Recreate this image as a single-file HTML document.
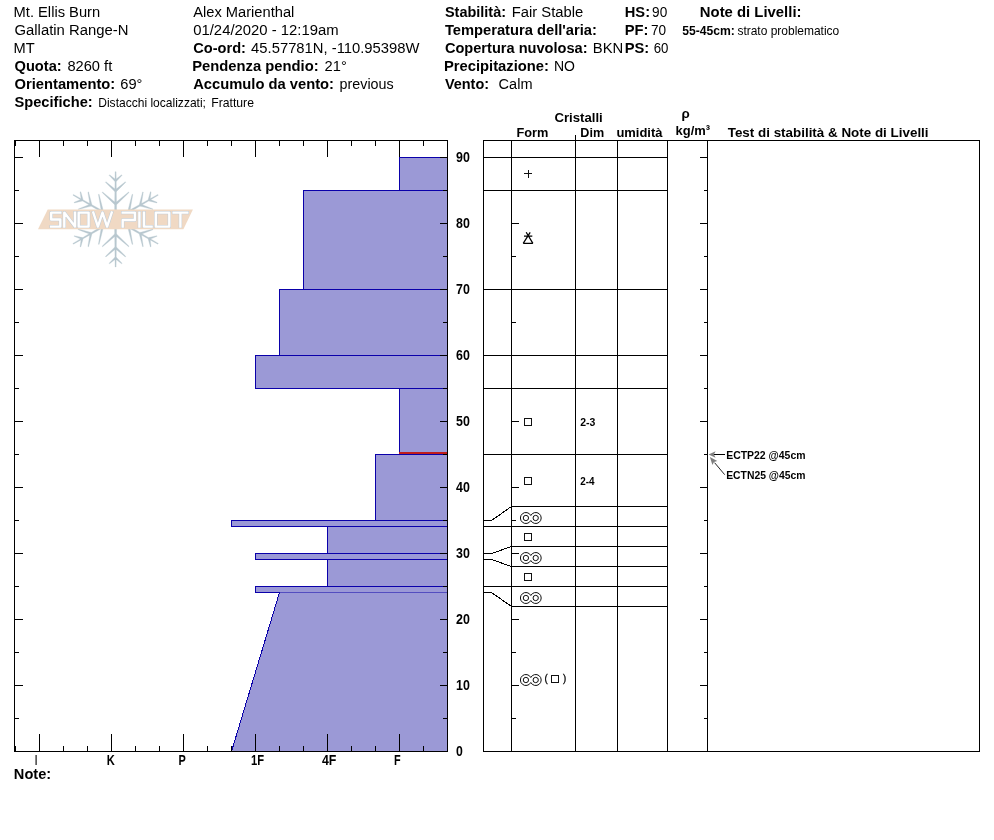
<!DOCTYPE html>
<html><head><meta charset="utf-8"><title>Snow Pilot</title>
<style>html,body{margin:0;padding:0;background:#fff;}svg{display:block;will-change:transform;}text{font-family:"Liberation Sans",sans-serif;fill:#000;}.b{font-weight:bold;}.h{font-size:15.3px;}.s{font-size:12.5px;}.t{font-size:13.55px;font-weight:bold;}.l{stroke:#000;stroke-width:1;shape-rendering:crispEdges;fill:none;}.bl{stroke:#0a00aa;stroke-width:1;shape-rendering:crispEdges;fill:none;}</style></head><body>
<svg width="994" height="840" viewBox="0 0 994 840">
<rect x="0" y="0" width="994" height="840" fill="#fff"/>
<text transform="translate(13.54,16.8) scale(0.9628,1)" class="h">Mt. Ellis Burn</text>
<text transform="translate(14.50,34.7) scale(0.9717,1)" class="h">Gallatin Range-N</text>
<text transform="translate(13.54,52.7) scale(0.9588,1)" class="h">MT</text>
<text transform="translate(14.50,70.8) scale(0.9588,1)" class="h b">Quota:</text>
<text transform="translate(67.40,70.8) scale(0.9588,1)" class="h">8260 ft</text>
<text transform="translate(14.50,88.8) scale(0.9648,1)" class="h b">Orientamento:</text>
<text transform="translate(120.30,88.8) scale(0.9588,1)" class="h">69°</text>
<text transform="translate(14.50,106.7) scale(0.9588,1)" class="h b">Specifiche:</text>
<text transform="translate(98.24,107.2) scale(0.9640,1)" class="s">Distacchi localizzati;</text>
<text transform="translate(211.22,107.2) scale(0.9764,1)" class="s">Fratture</text>
<text transform="translate(193.20,16.8) scale(0.9597,1)" class="h">Alex Marienthal</text>
<text transform="translate(193.20,34.7) scale(0.9722,1)" class="h">01/24/2020 - 12:19am</text>
<text transform="translate(193.20,52.7) scale(0.9552,1)" class="h b">Co-ord:</text>
<text transform="translate(251.10,52.7) scale(0.9678,1)" class="h">45.57781N, -110.95398W</text>
<text transform="translate(192.23,70.8) scale(0.9667,1)" class="h b">Pendenza pendio:</text>
<text transform="translate(324.60,70.8) scale(0.9588,1)" class="h">21°</text>
<text transform="translate(193.20,88.8) scale(0.9635,1)" class="h b">Accumulo da vento:</text>
<text transform="translate(339.60,88.8) scale(0.9352,1)" class="h">previous</text>
<text transform="translate(444.90,16.8) scale(0.9480,1)" class="h b">Stabilità:</text>
<text transform="translate(511.73,16.8) scale(0.9674,1)" class="h">Fair Stable</text>
<text transform="translate(444.90,34.7) scale(0.9619,1)" class="h b">Temperatura dell'aria:</text>
<text transform="translate(444.90,52.7) scale(0.9549,1)" class="h b">Copertura nuvolosa:</text>
<text transform="translate(592.83,52.7) scale(0.9692,1)" class="h">BKN</text>
<text transform="translate(443.93,70.8) scale(0.9662,1)" class="h b">Precipitazione:</text>
<text transform="translate(553.88,70.8) scale(0.9162,1)" class="h">NO</text>
<text transform="translate(444.90,88.8) scale(0.9464,1)" class="h b">Vento:</text>
<text transform="translate(498.60,88.8) scale(0.9499,1)" class="h">Calm</text>
<text transform="translate(624.74,16.8) scale(0.9608,1)" class="h b">HS:</text>
<text transform="translate(652.10,16.8) scale(0.8905,1)" class="h">90</text>
<text transform="translate(624.74,34.7) scale(0.9624,1)" class="h b">PF:</text>
<text transform="translate(651.00,34.7) scale(0.8905,1)" class="h">70</text>
<text transform="translate(624.74,52.7) scale(0.9613,1)" class="h b">PS:</text>
<text transform="translate(653.70,52.7) scale(0.8663,1)" class="h">60</text>
<text transform="translate(699.83,16.8) scale(0.9732,1)" class="h b">Note di Livelli:</text>
<text transform="translate(682.20,34.7) scale(0.9729,1)" class="s b">55-45cm:</text>
<text transform="translate(737.40,34.7) scale(0.9591,1)" class="s">strato problematico</text>
<text transform="translate(554.40,121.7) scale(0.9729,1)" class="t">Cristalli</text>
<text transform="translate(516.50,136.6) scale(0.9432,1)" class="t">Form</text>
<text transform="translate(580.30,136.6) scale(0.9316,1)" class="t">Dim</text>
<text transform="translate(616.40,136.6) scale(0.9582,1)" class="t">umidità</text>
<text transform="translate(681.50,117.8) scale(0.9840,1)" class="t">ρ</text>
<text transform="translate(675.60,134.8) scale(0.9558,1)" class="t">kg/m³</text>
<text transform="translate(727.70,136.6) scale(0.9905,1)" class="t">Test di stabilità &amp; Note di Livelli</text>
<rect x="399.5" y="157.5" width="48" height="33" fill="#9b99d6" stroke="#0a00aa" stroke-width="1" shape-rendering="crispEdges"/>
<rect x="303.5" y="190.5" width="144" height="99" fill="#9b99d6" stroke="#0a00aa" stroke-width="1" shape-rendering="crispEdges"/>
<rect x="279.5" y="289.5" width="168" height="66" fill="#9b99d6" stroke="#0a00aa" stroke-width="1" shape-rendering="crispEdges"/>
<rect x="255.5" y="355.5" width="192" height="33" fill="#9b99d6" stroke="#0a00aa" stroke-width="1" shape-rendering="crispEdges"/>
<rect x="399.5" y="388.5" width="48" height="66" fill="#9b99d6" stroke="#0a00aa" stroke-width="1" shape-rendering="crispEdges"/>
<rect x="375.5" y="454.5" width="72" height="66" fill="#9b99d6" stroke="#0a00aa" stroke-width="1" shape-rendering="crispEdges"/>
<rect x="231.5" y="520.5" width="216" height="6" fill="#9b99d6" stroke="#0a00aa" stroke-width="1" shape-rendering="crispEdges"/>
<rect x="327.5" y="526.5" width="120" height="27" fill="#9b99d6" stroke="#0a00aa" stroke-width="1" shape-rendering="crispEdges"/>
<rect x="255.5" y="553.5" width="192" height="6" fill="#9b99d6" stroke="#0a00aa" stroke-width="1" shape-rendering="crispEdges"/>
<rect x="327.5" y="559.5" width="120" height="27" fill="#9b99d6" stroke="#0a00aa" stroke-width="1" shape-rendering="crispEdges"/>
<rect x="255.5" y="586.5" width="192" height="6" fill="#9b99d6" stroke="#0a00aa" stroke-width="1" shape-rendering="crispEdges"/>
<polygon points="279.5,592.5 447.5,592.5 447.5,751.5 231.5,751.5" fill="#9b99d6" stroke="none"/>
<line x1="279.5" y1="592.5" x2="231.5" y2="751.5" stroke="#0a00aa" stroke-width="1" shape-rendering="crispEdges"/>
<rect x="399" y="452" width="48" height="2" fill="#c01c1c" shape-rendering="crispEdges"/>
<line x1="14" y1="140.5" x2="448" y2="140.5" class="l"/>
<line x1="14" y1="751.5" x2="448" y2="751.5" class="l"/>
<line x1="14.5" y1="140" x2="14.5" y2="752" class="l"/>
<line x1="447.5" y1="140" x2="447.5" y2="752" class="l"/>
<line x1="15.5" y1="140" x2="15.5" y2="146" class="l"/>
<line x1="15.5" y1="746" x2="15.5" y2="752" class="l"/>
<line x1="39.5" y1="140" x2="39.5" y2="157" class="l"/>
<line x1="39.5" y1="734" x2="39.5" y2="752" class="l"/>
<line x1="63.5" y1="140" x2="63.5" y2="146" class="l"/>
<line x1="63.5" y1="746" x2="63.5" y2="752" class="l"/>
<line x1="87.5" y1="140" x2="87.5" y2="146" class="l"/>
<line x1="87.5" y1="746" x2="87.5" y2="752" class="l"/>
<line x1="111.5" y1="140" x2="111.5" y2="157" class="l"/>
<line x1="111.5" y1="734" x2="111.5" y2="752" class="l"/>
<line x1="135.5" y1="140" x2="135.5" y2="146" class="l"/>
<line x1="135.5" y1="746" x2="135.5" y2="752" class="l"/>
<line x1="159.5" y1="140" x2="159.5" y2="146" class="l"/>
<line x1="159.5" y1="746" x2="159.5" y2="752" class="l"/>
<line x1="183.5" y1="140" x2="183.5" y2="157" class="l"/>
<line x1="183.5" y1="734" x2="183.5" y2="752" class="l"/>
<line x1="207.5" y1="140" x2="207.5" y2="146" class="l"/>
<line x1="207.5" y1="746" x2="207.5" y2="752" class="l"/>
<line x1="231.5" y1="140" x2="231.5" y2="146" class="l"/>
<line x1="231.5" y1="746" x2="231.5" y2="752" class="l"/>
<line x1="255.5" y1="140" x2="255.5" y2="157" class="l"/>
<line x1="255.5" y1="734" x2="255.5" y2="752" class="l"/>
<line x1="279.5" y1="140" x2="279.5" y2="146" class="l"/>
<line x1="279.5" y1="746" x2="279.5" y2="752" class="l"/>
<line x1="303.5" y1="140" x2="303.5" y2="146" class="l"/>
<line x1="303.5" y1="746" x2="303.5" y2="752" class="l"/>
<line x1="327.5" y1="140" x2="327.5" y2="157" class="l"/>
<line x1="327.5" y1="734" x2="327.5" y2="752" class="l"/>
<line x1="351.5" y1="140" x2="351.5" y2="146" class="l"/>
<line x1="351.5" y1="746" x2="351.5" y2="752" class="l"/>
<line x1="375.5" y1="140" x2="375.5" y2="146" class="l"/>
<line x1="375.5" y1="746" x2="375.5" y2="752" class="l"/>
<line x1="399.5" y1="140" x2="399.5" y2="157" class="l"/>
<line x1="399.5" y1="734" x2="399.5" y2="752" class="l"/>
<line x1="423.5" y1="140" x2="423.5" y2="146" class="l"/>
<line x1="423.5" y1="746" x2="423.5" y2="752" class="l"/>
<line x1="15.5" y1="140" x2="15.5" y2="146" class="l"/>
<line x1="14" y1="751.5" x2="23" y2="751.5" class="l"/>
<line x1="440" y1="751.5" x2="448" y2="751.5" class="l"/>
<line x1="14" y1="718.5" x2="19" y2="718.5" class="l"/>
<line x1="443" y1="718.5" x2="448" y2="718.5" class="l"/>
<line x1="14" y1="685.5" x2="23" y2="685.5" class="l"/>
<line x1="440" y1="685.5" x2="448" y2="685.5" class="l"/>
<line x1="14" y1="652.5" x2="19" y2="652.5" class="l"/>
<line x1="443" y1="652.5" x2="448" y2="652.5" class="l"/>
<line x1="14" y1="619.5" x2="23" y2="619.5" class="l"/>
<line x1="440" y1="619.5" x2="448" y2="619.5" class="l"/>
<line x1="14" y1="586.5" x2="19" y2="586.5" class="l"/>
<line x1="443" y1="586.5" x2="448" y2="586.5" class="l"/>
<line x1="14" y1="553.5" x2="23" y2="553.5" class="l"/>
<line x1="440" y1="553.5" x2="448" y2="553.5" class="l"/>
<line x1="14" y1="520.5" x2="19" y2="520.5" class="l"/>
<line x1="443" y1="520.5" x2="448" y2="520.5" class="l"/>
<line x1="14" y1="487.5" x2="23" y2="487.5" class="l"/>
<line x1="440" y1="487.5" x2="448" y2="487.5" class="l"/>
<line x1="14" y1="454.5" x2="19" y2="454.5" class="l"/>
<line x1="443" y1="454.5" x2="448" y2="454.5" class="l"/>
<line x1="14" y1="421.5" x2="23" y2="421.5" class="l"/>
<line x1="440" y1="421.5" x2="448" y2="421.5" class="l"/>
<line x1="14" y1="388.5" x2="19" y2="388.5" class="l"/>
<line x1="443" y1="388.5" x2="448" y2="388.5" class="l"/>
<line x1="14" y1="355.5" x2="23" y2="355.5" class="l"/>
<line x1="440" y1="355.5" x2="448" y2="355.5" class="l"/>
<line x1="14" y1="322.5" x2="19" y2="322.5" class="l"/>
<line x1="443" y1="322.5" x2="448" y2="322.5" class="l"/>
<line x1="14" y1="289.5" x2="23" y2="289.5" class="l"/>
<line x1="440" y1="289.5" x2="448" y2="289.5" class="l"/>
<line x1="14" y1="256.5" x2="19" y2="256.5" class="l"/>
<line x1="443" y1="256.5" x2="448" y2="256.5" class="l"/>
<line x1="14" y1="223.5" x2="23" y2="223.5" class="l"/>
<line x1="440" y1="223.5" x2="448" y2="223.5" class="l"/>
<line x1="14" y1="190.5" x2="19" y2="190.5" class="l"/>
<line x1="443" y1="190.5" x2="448" y2="190.5" class="l"/>
<line x1="14" y1="157.5" x2="23" y2="157.5" class="l"/>
<line x1="440" y1="157.5" x2="448" y2="157.5" class="l"/>
<text transform="translate(456.00,756.2) scale(0.8750,1)" class="b" style="font-size:14px">0</text>
<text transform="translate(456.00,690.2) scale(0.8869,1)" class="b" style="font-size:14px">10</text>
<text transform="translate(456.00,624.2) scale(0.8869,1)" class="b" style="font-size:14px">20</text>
<text transform="translate(456.00,558.2) scale(0.8869,1)" class="b" style="font-size:14px">30</text>
<text transform="translate(456.00,492.2) scale(0.8869,1)" class="b" style="font-size:14px">40</text>
<text transform="translate(456.00,426.2) scale(0.8869,1)" class="b" style="font-size:14px">50</text>
<text transform="translate(456.00,360.2) scale(0.8869,1)" class="b" style="font-size:14px">60</text>
<text transform="translate(456.00,294.2) scale(0.8869,1)" class="b" style="font-size:14px">70</text>
<text transform="translate(456.00,228.2) scale(0.8869,1)" class="b" style="font-size:14px">80</text>
<text transform="translate(456.00,162.2) scale(0.8869,1)" class="b" style="font-size:14px">90</text>
<text transform="translate(35.00,765) scale(0.5500,1)" class="t" style="font-size:14.4px">I</text>
<text transform="translate(106.70,765) scale(0.7727,1)" class="t" style="font-size:14.4px">K</text>
<text transform="translate(178.60,765) scale(0.7600,1)" class="t" style="font-size:14.4px">P</text>
<text transform="translate(251.00,765) scale(0.7763,1)" class="t" style="font-size:14.4px">1F</text>
<text transform="translate(322.00,765) scale(0.8587,1)" class="t" style="font-size:14.4px">4F</text>
<text transform="translate(394.00,765) scale(0.7556,1)" class="t" style="font-size:14.4px">F</text>
<text transform="translate(13.85,778.8) scale(0.9543,1)" class="h b">Note:</text>
<line x1="483" y1="140.5" x2="980" y2="140.5" class="l"/>
<line x1="483" y1="751.5" x2="980" y2="751.5" class="l"/>
<line x1="483.5" y1="140" x2="483.5" y2="752" class="l"/>
<line x1="979.5" y1="140" x2="979.5" y2="752" class="l"/>
<line x1="511.5" y1="140" x2="511.5" y2="752" class="l"/>
<line x1="575.5" y1="135" x2="575.5" y2="752" class="l"/>
<line x1="617.5" y1="140" x2="617.5" y2="752" class="l"/>
<line x1="667.5" y1="140" x2="667.5" y2="752" class="l"/>
<line x1="707.5" y1="140" x2="707.5" y2="752" class="l"/>
<line x1="483" y1="157.5" x2="668" y2="157.5" class="l"/>
<line x1="483" y1="190.5" x2="668" y2="190.5" class="l"/>
<line x1="483" y1="289.5" x2="668" y2="289.5" class="l"/>
<line x1="483" y1="355.5" x2="668" y2="355.5" class="l"/>
<line x1="483" y1="388.5" x2="668" y2="388.5" class="l"/>
<line x1="483" y1="454.5" x2="668" y2="454.5" class="l"/>
<line x1="483" y1="526.5" x2="668" y2="526.5" class="l"/>
<line x1="483" y1="586.5" x2="668" y2="586.5" class="l"/>
<line x1="511" y1="506.5" x2="668" y2="506.5" class="l"/>
<line x1="511" y1="546.5" x2="668" y2="546.5" class="l"/>
<line x1="511" y1="566.5" x2="668" y2="566.5" class="l"/>
<line x1="511" y1="606.5" x2="668" y2="606.5" class="l"/>
<polyline points="483.5,520.5 491.5,520.5 511.5,506.5" stroke="#000" stroke-width="1" fill="none" shape-rendering="crispEdges"/>
<polyline points="483.5,553.5 491.5,553.5 511.5,546.5" stroke="#000" stroke-width="1" fill="none" shape-rendering="crispEdges"/>
<polyline points="483.5,559.5 491.5,559.5 511.5,566.5" stroke="#000" stroke-width="1" fill="none" shape-rendering="crispEdges"/>
<polyline points="483.5,592.5 491.5,592.5 511.5,606.5" stroke="#000" stroke-width="1" fill="none" shape-rendering="crispEdges"/>
<line x1="511" y1="751.5" x2="519" y2="751.5" class="l"/>
<line x1="700" y1="751.5" x2="708" y2="751.5" class="l"/>
<line x1="511" y1="718.5" x2="516" y2="718.5" class="l"/>
<line x1="704" y1="718.5" x2="708" y2="718.5" class="l"/>
<line x1="511" y1="685.5" x2="519" y2="685.5" class="l"/>
<line x1="700" y1="685.5" x2="708" y2="685.5" class="l"/>
<line x1="511" y1="652.5" x2="516" y2="652.5" class="l"/>
<line x1="704" y1="652.5" x2="708" y2="652.5" class="l"/>
<line x1="511" y1="619.5" x2="519" y2="619.5" class="l"/>
<line x1="700" y1="619.5" x2="708" y2="619.5" class="l"/>
<line x1="511" y1="586.5" x2="516" y2="586.5" class="l"/>
<line x1="704" y1="586.5" x2="708" y2="586.5" class="l"/>
<line x1="511" y1="553.5" x2="519" y2="553.5" class="l"/>
<line x1="700" y1="553.5" x2="708" y2="553.5" class="l"/>
<line x1="511" y1="520.5" x2="516" y2="520.5" class="l"/>
<line x1="704" y1="520.5" x2="708" y2="520.5" class="l"/>
<line x1="511" y1="487.5" x2="519" y2="487.5" class="l"/>
<line x1="700" y1="487.5" x2="708" y2="487.5" class="l"/>
<line x1="511" y1="454.5" x2="516" y2="454.5" class="l"/>
<line x1="704" y1="454.5" x2="708" y2="454.5" class="l"/>
<line x1="511" y1="421.5" x2="519" y2="421.5" class="l"/>
<line x1="700" y1="421.5" x2="708" y2="421.5" class="l"/>
<line x1="511" y1="388.5" x2="516" y2="388.5" class="l"/>
<line x1="704" y1="388.5" x2="708" y2="388.5" class="l"/>
<line x1="511" y1="355.5" x2="519" y2="355.5" class="l"/>
<line x1="700" y1="355.5" x2="708" y2="355.5" class="l"/>
<line x1="511" y1="322.5" x2="516" y2="322.5" class="l"/>
<line x1="704" y1="322.5" x2="708" y2="322.5" class="l"/>
<line x1="511" y1="289.5" x2="519" y2="289.5" class="l"/>
<line x1="700" y1="289.5" x2="708" y2="289.5" class="l"/>
<line x1="511" y1="256.5" x2="516" y2="256.5" class="l"/>
<line x1="704" y1="256.5" x2="708" y2="256.5" class="l"/>
<line x1="511" y1="223.5" x2="519" y2="223.5" class="l"/>
<line x1="700" y1="223.5" x2="708" y2="223.5" class="l"/>
<line x1="511" y1="190.5" x2="516" y2="190.5" class="l"/>
<line x1="704" y1="190.5" x2="708" y2="190.5" class="l"/>
<line x1="511" y1="157.5" x2="519" y2="157.5" class="l"/>
<line x1="700" y1="157.5" x2="708" y2="157.5" class="l"/>
<path d="M524,173.5H532M528.5,170V178" stroke="#111" stroke-width="1" fill="none" shape-rendering="crispEdges"/>
<g stroke="#000" stroke-width="1.25" fill="none" stroke-linecap="butt"><path d="M523.2,243.4L530.2,232.3M532.9,243.4L526.2,232.3M523.2,243.4H532.9M524.0,236.0H532.3000000000001"/></g>
<rect x="524.5" y="418.5" width="7" height="7" stroke="#111" stroke-width="1" fill="none" shape-rendering="crispEdges"/>
<rect x="524.5" y="477.5" width="7" height="7" stroke="#111" stroke-width="1" fill="none" shape-rendering="crispEdges"/>
<g stroke="#101010" stroke-width="1.0" fill="none"><circle cx="525.9" cy="518" r="2.65"/><circle cx="535.6999999999999" cy="518" r="2.65"/><path d="M530.8,515.50 A5.5,5.5 0 1 0 530.8,520.50 A5.5,5.5 0 1 0 530.8,515.50Z"/></g>
<rect x="524.5" y="533.5" width="7" height="7" stroke="#111" stroke-width="1" fill="none" shape-rendering="crispEdges"/>
<g stroke="#101010" stroke-width="1.0" fill="none"><circle cx="525.9" cy="558" r="2.65"/><circle cx="535.6999999999999" cy="558" r="2.65"/><path d="M530.8,555.50 A5.5,5.5 0 1 0 530.8,560.50 A5.5,5.5 0 1 0 530.8,555.50Z"/></g>
<rect x="524.5" y="573.5" width="7" height="7" stroke="#111" stroke-width="1" fill="none" shape-rendering="crispEdges"/>
<g stroke="#101010" stroke-width="1.0" fill="none"><circle cx="525.9" cy="598" r="2.65"/><circle cx="535.6999999999999" cy="598" r="2.65"/><path d="M530.8,595.50 A5.5,5.5 0 1 0 530.8,600.50 A5.5,5.5 0 1 0 530.8,595.50Z"/></g>
<g stroke="#101010" stroke-width="1.0" fill="none"><circle cx="525.9" cy="680" r="2.65"/><circle cx="535.6999999999999" cy="680" r="2.65"/><path d="M530.8,677.50 A5.5,5.5 0 1 0 530.8,682.50 A5.5,5.5 0 1 0 530.8,677.50Z"/></g>
<text transform="translate(544.50,681.6) scale(0.9600,1)" class="s" style="font-size:10px;stroke:#000;stroke-width:0.3">(</text>
<rect x="551.5" y="675.5" width="7" height="7" stroke="#111" stroke-width="1" fill="none" shape-rendering="crispEdges"/>
<text transform="translate(563.10,681.6) scale(0.9600,1)" class="s" style="font-size:10px;stroke:#000;stroke-width:0.3">)</text>
<text transform="translate(580.20,426) scale(0.9122,1)" class="b" style="font-size:11.5px">2-3</text>
<text transform="translate(580.20,485) scale(0.8592,1)" class="b" style="font-size:11.5px">2-4</text>
<text transform="translate(726.20,458.8) scale(0.9509,1)" class="b" style="font-size:11px">ECTP22 @45cm</text>
<text transform="translate(726.20,478.7) scale(0.9441,1)" class="b" style="font-size:11px">ECTN25 @45cm</text>
<path d="M725,454.5H713" stroke="#000" stroke-width="1" fill="none" shape-rendering="crispEdges"/>
<path d="M708.6,454.5L715.6,451.3L713.9,454.5L715.6,457.7Z" fill="#808080"/>
<path d="M724.7,474.7L714.6,462.7" stroke="#111" stroke-width="0.9" fill="none"/>
<path d="M709.9,457.1L717.3,461.0L714.0,462.0L712.4,465.1Z" fill="#808080"/>
<g id="logo">
<path d="M116.7,216.3 L116.1,171.7 L115.1,171.7 L114.5,216.3Z M116.3,181.4 L122.1,175.3 L121.6,174.8 L114.9,180.0Z M116.3,180.0 L109.6,174.8 L109.1,175.3 L114.9,181.4Z M116.3,191.7 L125.8,182.2 L125.3,181.7 L114.9,190.1Z M116.3,190.1 L105.9,181.7 L105.4,182.2 L114.9,191.7Z M116.3,204.9 L129.1,192.4 L128.6,191.9 L114.9,203.3Z M116.3,203.3 L102.6,191.9 L102.1,192.4 L114.9,204.9Z M113.6,216.8 L73.4,194.4 L72.9,195.2 L112.5,218.8Z M83.1,199.8 L80.8,191.7 L80.1,191.9 L81.2,200.2Z M81.9,199.0 L74.1,202.3 L74.3,202.9 L82.5,201.0Z M92.0,204.9 L88.6,191.9 L87.9,192.1 L90.0,205.3Z M90.7,204.1 L78.2,208.9 L78.4,209.6 L91.3,206.1Z M103.5,211.5 L99.1,194.2 L98.4,194.4 L101.4,211.9Z M102.1,210.7 L85.4,216.9 L85.6,217.5 L102.8,212.7Z M112.5,219.8 L72.9,243.4 L73.4,244.2 L113.6,221.8Z M82.5,237.6 L74.3,235.7 L74.1,236.3 L81.9,239.6Z M81.2,238.4 L80.1,246.7 L80.8,246.9 L83.1,238.8Z M91.3,232.5 L78.4,229.0 L78.2,229.7 L90.7,234.5Z M90.0,233.3 L87.9,246.5 L88.6,246.7 L92.0,233.7Z M102.8,225.9 L85.6,221.1 L85.4,221.7 L102.1,227.9Z M101.4,226.7 L98.4,244.2 L99.1,244.4 L103.5,227.1Z M114.5,222.3 L115.1,266.9 L116.1,266.9 L116.7,222.3Z M114.9,257.2 L109.1,263.3 L109.6,263.8 L116.3,258.6Z M114.9,258.6 L121.6,263.8 L122.1,263.3 L116.3,257.2Z M114.9,246.9 L105.4,256.4 L105.9,256.9 L116.3,248.5Z M114.9,248.5 L125.3,256.9 L125.8,256.4 L116.3,246.9Z M114.9,233.7 L102.1,246.2 L102.6,246.7 L116.3,235.3Z M114.9,235.3 L128.6,246.7 L129.1,246.2 L116.3,233.7Z M117.6,221.8 L157.8,244.2 L158.3,243.4 L118.7,219.8Z M148.1,238.8 L150.4,246.9 L151.1,246.7 L150.0,238.4Z M149.3,239.6 L157.1,236.3 L156.9,235.7 L148.7,237.6Z M139.2,233.7 L142.6,246.7 L143.3,246.5 L141.2,233.3Z M140.5,234.5 L153.0,229.7 L152.8,229.0 L139.9,232.5Z M127.7,227.1 L132.1,244.4 L132.8,244.2 L129.8,226.7Z M129.1,227.9 L145.8,221.7 L145.6,221.1 L128.4,225.9Z M118.7,218.8 L158.3,195.2 L157.8,194.4 L117.6,216.8Z M148.7,201.0 L156.9,202.9 L157.1,202.3 L149.3,199.0Z M150.0,200.2 L151.1,191.9 L150.4,191.7 L148.1,199.8Z M139.9,206.1 L152.8,209.6 L153.0,208.9 L140.5,204.1Z M141.2,205.3 L143.3,192.1 L142.6,191.9 L139.2,204.9Z M128.4,212.7 L145.6,217.5 L145.8,216.9 L129.1,210.7Z M129.8,211.9 L132.8,194.4 L132.1,194.2 L127.7,211.5Z" fill="#b8c7cf" stroke="#b8c7cf" stroke-width="0.3" stroke-linejoin="round"/>
<polygon points="47.7,209.5 192.9,209.5 183.4,229.2 38,229.2" fill="#f0d9c4"/>
<clipPath id="lc"><rect x="40" y="211.1" width="155" height="17"/></clipPath>
<g clip-path="url(#lc)"><path d="M60.3,212.6 L51.2,212.6 L51.2,219.5 L60.3,219.5 L60.3,226.6 L51.2,226.6 M64.3,226.6 L64.3,212.6 L75.0,226.6 L75.0,212.6 M78.7,212.6 L88.6,212.6 L88.6,226.6 L78.7,226.6Z M93.3,212.6 L97.9,226.6 L102.5,212.6 L107.1,226.6 L111.7,212.6 M122.7,212.6 L134.9,212.6 L134.9,220.0 L122.7,220.0 L122.7,226.6 M139.4,212.6 L139.4,226.6 M144.0,212.6 L144.0,226.6 L151.6,226.6 M155.8,212.6 L169.3,212.6 L169.3,226.6 L155.8,226.6Z M173.6,212.6 L187.3,212.6M180.4,212.6 L180.4,226.6" fill="none" stroke="#c0ccd6" stroke-width="3.4" stroke-linecap="square" stroke-linejoin="round"/>
<path d="M60.3,212.6 L51.2,212.6 L51.2,219.5 L60.3,219.5 L60.3,226.6 L51.2,226.6 M64.3,226.6 L64.3,212.6 L75.0,226.6 L75.0,212.6 M78.7,212.6 L88.6,212.6 L88.6,226.6 L78.7,226.6Z M93.3,212.6 L97.9,226.6 L102.5,212.6 L107.1,226.6 L111.7,212.6 M122.7,212.6 L134.9,212.6 L134.9,220.0 L122.7,220.0 L122.7,226.6 M139.4,212.6 L139.4,226.6 M144.0,212.6 L144.0,226.6 L151.6,226.6 M155.8,212.6 L169.3,212.6 L169.3,226.6 L155.8,226.6Z M173.6,212.6 L187.3,212.6M180.4,212.6 L180.4,226.6" fill="none" stroke="#ffffff" stroke-width="2.4" stroke-linecap="square" stroke-linejoin="round"/></g>
</g>
</svg></body></html>
